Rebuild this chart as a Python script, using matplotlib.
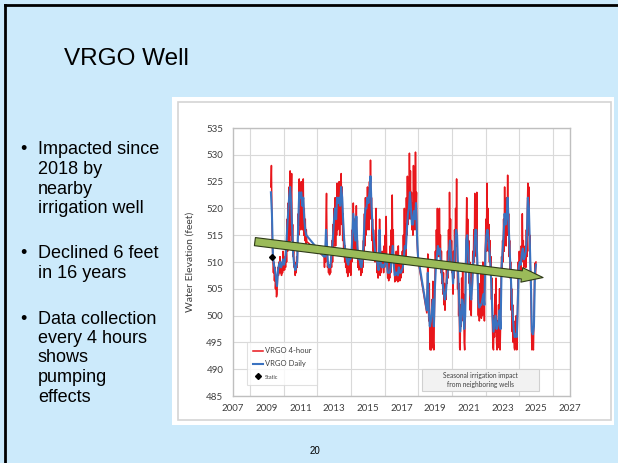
import numpy as np
import matplotlib
matplotlib.use('Agg')
import matplotlib.pyplot as plt
from matplotlib.patches import Rectangle, FancyArrowPatch
from matplotlib.lines import Line2D

# ---- data ----
# VRGO 4-hour record: one value every 0.03 yr, three runs (gaps 2011-2012 and early 2018)
red_start = [2009.25, 2012.40, 2018.50]
red_step = 0.03
red_2009 = [524, 528, 518, 513, 510, 508, 510, 506.5, 509, 505,
            507, 503.5, 504, 507, 509, 507.5, 510, 508, 511, 508,
            509.5, 507.5, 510, 508, 512, 508.5, 510, 508.5, 511, 509,
            513, 510, 518, 512, 521, 514, 524, 513, 527, 515,
            522, 526.5, 514, 517, 511, 512, 509, 510, 507.5, 509,
            508, 511, 509, 514, 519, 515, 525.5, 517, 524, 516,
            525, 518, 522, 516, 525.5, 515, 520, 514, 518, 513,
            516, 513.8]
red_2012 = [511, 509, 512, 510, 518, 522.8, 513, 509, 510, 508,
            509.5, 507.6, 509, 508, 511, 509, 514, 510, 517, 512,
            520, 514, 522, 513, 519, 515, 524.7, 516, 523, 517,
            525, 515, 522, 518, 526.5, 517, 524, 514, 519, 511,
            515, 510, 513, 509, 512, 508, 511, 507.3, 510, 508,
            512, 509, 511, 507.5, 512, 510, 516, 511, 521, 513,
            518, 512, 515, 511, 520.5, 512, 514, 509, 511, 508.5,
            512, 509, 510, 507.5, 509, 508, 511, 509, 514, 511,
            519, 513, 522, 515, 521, 516, 524, 517, 523, 516,
            525, 518, 529, 519, 522, 514, 518, 512, 516, 511,
            514, 510, 512, 520, 511, 508, 510, 507, 509, 508,
            518, 507.5, 511, 508, 509, 512, 509, 511, 508, 513,
            509, 515, 510, 518.5, 511, 509, 507, 510, 506.5, 509,
            507, 513, 508, 516, 510, 522.5, 512, 516, 509, 511,
            506.3, 509, 506.5, 512, 507, 510, 506.3, 513, 508, 510,
            506.5, 509, 507, 511, 508, 512, 508, 515, 510, 520,
            512, 517, 511, 522, 515, 526, 517, 524, 518, 530.3,
            520, 527, 518, 523, 516, 521, 515, 528, 518, 524,
            516, 530.5, 520, 523, 514, 512, 510.4]
red_2018 = [500.5, 504, 511.5, 503, 499, 506, 495, 493.6, 498, 493.6,
            503, 494, 506.4, 495, 493.6, 500, 507, 512, 509, 516,
            511, 520, 513, 518, 511, 520, 512, 515, 508, 512,
            506, 509, 504, 508, 502, 506, 501, 505, 503, 509,
            506, 512, 507, 516, 510, 523, 513, 518, 510, 514,
            508, 510, 504, 512, 507, 516, 510, 520, 513, 525.5,
            512, 505, 510, 500, 506, 494, 493.6, 502, 498, 507,
            501, 509, 499, 504, 495, 493.6, 500, 510, 515, 522,
            512, 518, 509, 514, 506, 510, 501, 507, 500, 508,
            505, 512, 508, 516, 510, 522.8, 512, 519, 511, 523,
            510, 505, 500, 506, 499, 504, 500, 508, 499.5, 505,
            500, 510, 502, 507, 499, 509, 513, 518, 512, 524.7,
            514, 520, 512, 517, 510, 514, 508, 511, 503, 507,
            498, 494, 493.6, 500, 496, 504, 497, 507, 495, 493.6,
            499, 494, 502, 496, 505, 493.6, 498, 506, 511, 508,
            514, 510, 518, 512, 524, 514, 520, 513, 522, 515,
            526.2, 515, 519, 511, 514, 507, 510, 501, 505, 497,
            502, 495, 499, 494, 493.6, 498, 494, 500, 493.6, 497,
            505, 510, 507, 512, 509, 511, 508, 513, 510, 519,
            511, 514, 509, 512, 510, 513, 509, 516, 511, 520,
            524.7, 515, 524, 512, 515, 508, 504, 498, 493.6, 497,
            494, 493.6, 500, 506, 509.8, 507, 510]

# VRGO Daily record: one value every 0.06 yr, same runs
blue_start = [2009.25, 2012.40, 2018.50]
blue_step = 0.06
blue_2009 = [523, 519, 511, 509.5, 508.5, 507, 505.5, 508.5, 509.5, 510,
             509, 509.5, 510.5, 509.5, 510.5, 512, 516, 519, 522, 524,
             521, 516, 511.5, 509.5, 508.5, 509, 510, 517, 523, 522,
             523, 520.5, 522, 518, 516, 515]
blue_2012 = [511, 511, 516, 513, 509.5, 509, 509, 510.5, 512.5, 515,
             518, 520, 518, 522, 521, 522, 520.5, 524, 522, 517.5,
             514, 512, 511, 510, 509.5, 511, 510.5, 511, 514.5, 519,
             516.5, 514, 518.5, 513, 510.5, 511, 509.5, 509, 510.5, 513,
             517.5, 520, 520, 522, 521, 523, 526, 520.5, 516.5, 515,
             513, 511.5, 511, 509.5, 508.5, 516, 510, 509, 509.5, 509,
             509.5, 510.5, 511, 508, 508, 508, 509, 511, 513, 509.5,
             507.5, 508, 508, 507.5, 509, 508, 508, 508.5, 509, 511,
             513, 512.5, 516, 519, 520, 523, 520, 517, 517, 519.5,
             518, 521, 515, 511]
blue_2018 = [501, 508, 501, 498, 499, 501, 503, 498, 505, 509,
             511, 513, 511.5, 512.5, 509.5, 507.5, 505.5, 504, 503, 504.5,
             507, 508.5, 512, 514, 511, 509, 506, 509, 513, 516,
             515, 508, 503, 497, 499, 503, 502, 497.5, 500, 514,
             515, 512, 508, 504, 503, 506, 510, 512, 516, 516,
             510, 502.5, 501.5, 502, 502, 503, 504, 502, 512, 515,
             516, 514.5, 512, 509.5, 505, 500, 497, 498.5, 500, 497.5,
             498, 499, 501, 497.5, 509, 512, 515, 519, 517, 518.5,
             522, 517, 512, 508, 503, 500, 497.5, 496, 496.5, 496,
             502, 509, 510, 509.5, 511.5, 512.5, 510.5, 511, 512, 515,
             522, 520, 513, 506, 497, 496.5, 498, 508, 509.5]

static_year = [2009.30]
static_elev = [511.0]

# hand-drawn trend arrow on the slide
trend_from = (2008.3, 513.8)
trend_to = (2025.4, 507.1)

x_ticks = list(range(2007, 2028, 2))
x_grid = list(range(2008, 2027, 2))
y_ticks = list(range(485, 536, 5))

bullets = [
    ["Impacted since", "2018 by", "nearby", "irrigation well"],
    ["Declined 6 feet", "in 16 years"],
    ["Data collection", "every 4 hours", "shows", "pumping", "effects"],
]


def runs(starts, step, parts):
    xs, ys = [], []
    for s, vals in zip(starts, parts):
        xs.append(s + step * np.arange(len(vals)))
        ys.append(np.array(vals, dtype=float))
    return np.concatenate(xs), np.concatenate(ys)


red_x, red_y = runs(red_start, red_step, [red_2009, red_2012, red_2018])
blue_x, blue_y = runs(blue_start, blue_step, [blue_2009, blue_2012, blue_2018])

# ---- slide ----
plt.rcParams['font.family'] = ['Liberation Sans', 'DejaVu Sans']
W, H = 618, 463
fig = plt.figure(figsize=(W / 100, H / 100), dpi=100)
fig.patch.set_facecolor('#CCEAFB')


def fx(px):
    return px / W


def fy(py):
    return 1 - py / H


fig.add_artist(Line2D([fx(5), 1], [fy(5), fy(5)], color='black', lw=2))
fig.add_artist(Line2D([fx(5), fx(5)], [fy(5), 0], color='black', lw=2))

fig.text(fx(64), fy(59), "VRGO Well", fontsize=17.5, va='center', ha='left')

# bullet text, line by line
line_h = 19.5
para_gap = 26
y = 150
for para in bullets:
    fig.text(fx(23), fy(y), "\u2022", fontsize=13, va='center', ha='center')
    for ln in para:
        fig.text(fx(38), fy(y), ln, fontsize=13, va='center', ha='left')
        y += line_h
    y += para_gap

fig.text(fx(315), fy(451), "20", fontsize=7, ha='center', va='center')

# white picture panel with the chart border
fig.add_artist(Rectangle((fx(172), fy(425)), (614 - 172) / W, (425 - 97) / H,
                         facecolor='white', edgecolor='none', zorder=-2))
fig.add_artist(Rectangle((fx(178), fy(420)), (611 - 178) / W, (420 - 102) / H,
                         facecolor='none', edgecolor='#D4D4D4', lw=1.2, zorder=-1))

# ---- chart ----
ax = fig.add_axes([233 / W, 1 - 396 / H, 337 / W, 268 / H])
ax.set_facecolor('white')

ax.plot(red_x, red_y, color='#E8161B', lw=1.1, zorder=3, label='VRGO 4-hour')
ax.plot(blue_x, blue_y, color='#3A72C0', lw=1.5, zorder=4, label='VRGO Daily')
ax.plot(static_year, static_elev, 'D', color='black', ms=3, zorder=5,
        label='Static', linestyle='none')

arrow = FancyArrowPatch(trend_from, trend_to,
                        arrowstyle='simple,head_length=1.1,head_width=0.75,tail_width=0.42',
                        mutation_scale=14, facecolor='#9BBB59', edgecolor='#2E3A18',
                        lw=0.8, shrinkA=0, shrinkB=0, zorder=6)
ax.add_patch(arrow)

ax.set_xlim(2007, 2027)
ax.set_ylim(485, 535)
ax.set_xticks(x_ticks)
ax.set_xticks(x_grid, minor=True)
ax.set_yticks(y_ticks)
ax.grid(which='minor', axis='x', color='#D9D9D9', lw=0.8)
ax.grid(which='major', axis='y', color='#D9D9D9', lw=0.8)
ax.set_axisbelow(True)
ax.tick_params(which='both', length=0, labelsize=7, labelcolor='#404040')
ax.tick_params(axis='x', pad=6)
ax.tick_params(axis='y', pad=7)
for lab in ax.get_xticklabels() + ax.get_yticklabels():
    lab.set_family('Lato')
for sp in ax.spines.values():
    sp.set_color('#BFBFBF')
    sp.set_linewidth(1.0)
ax.set_ylabel("Water Elevation (feet)", fontsize=7.5, color='#404040',
              family='Lato', labelpad=8)

leg = ax.legend(loc='lower left', bbox_to_anchor=(0.042, 0.04),
                frameon=True, fancybox=False, edgecolor='#D9D9D9',
                handlelength=1.4, handletextpad=0.2, labelspacing=0.8,
                borderpad=0.7, borderaxespad=0, prop={'family': 'Lato', 'size': 5.5})
leg.get_frame().set_linewidth(0.8)
for t in leg.get_texts():
    t.set_color('#404040')
leg.get_texts()[2].set_fontsize(4.0)
leg.set_zorder(7)

ax.add_patch(Rectangle((0.56, 0.019), 0.348, 0.082, transform=ax.transAxes,
                       facecolor='#F2F2F2', edgecolor='#D0D0D0', lw=0.8, zorder=7))
ax.text(0.734, 0.06, "Seasonal irrigation impact\nfrom neighboring wells",
        transform=ax.transAxes, ha='center', va='center', fontsize=4.8,
        color='#404040', family='Lato', linespacing=1.3, zorder=8)

fig.savefig('out.png', dpi=100, facecolor=fig.get_facecolor())
